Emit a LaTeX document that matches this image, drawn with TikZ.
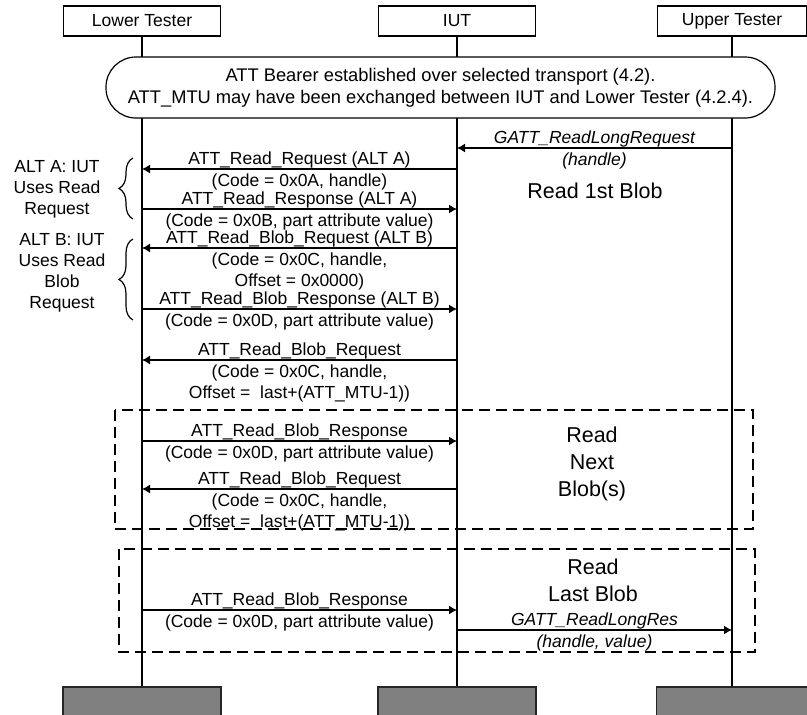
\documentclass[tikz,border=0pt]{standalone}
\usepackage{fontspec}
\setmainfont{Liberation Sans}
\usetikzlibrary{arrows.meta,decorations.pathreplacing}
\begin{document}
\begin{tikzpicture}[x=1pt,y=-1pt,
  every node/.style={font=\fontsize{17.5pt}{21pt}\selectfont, inner sep=0pt},
  actor/.style={draw, line width=1.2pt, minimum width=157pt, minimum height=30pt},
  endbox/.style={draw=black!85, fill=gray, line width=1.2pt, minimum width=158pt, minimum height=30pt},
  life/.style={line width=2pt},
  msg/.style={line width=1.3pt, -{Latex[length=8pt,width=9pt]}},
  ab/.style={midway, anchor=base, yshift=5pt},
  bl/.style={midway, anchor=base, yshift=-17.5pt},
  bltwo/.style={midway, anchor=base, yshift=-38.5pt},
  itl/.style={font=\fontsize{17.5pt}{21pt}\selectfont\itshape},
  big/.style={font=\fontsize{21.5pt}{27pt}\selectfont, align=center},
  grp/.style={draw, line width=1.4pt, dash pattern=on 11pt off 6pt},
  brc/.style={decorate, decoration={brace, amplitude=14pt}, line width=1.2pt},
  alt/.style={align=center}
]
\useasboundingbox (0,0) rectangle (807,715);

% actors
\node[actor] (LT) at (142,21) {Lower Tester};
\node[actor] (IUT) at (457,21) {IUT};
\node[actor, minimum width=149pt] (UT) at (732,21) {Upper Tester};
\node[endbox] (LTb) at (142,702) {};
\node[endbox] (IUTb) at (457,702) {};
\node[endbox, minimum width=151pt] (UTb) at (732,702) {};

% lifelines
\draw[life] (LT.south) -- (LTb.north);
\draw[life] (IUT.south) -- (IUTb.north);
\draw[life] (UT.south) -- (UTb.north);

% bearer box
\node[draw, fill=white, line width=1.2pt, rounded corners=30pt, minimum width=669pt, minimum height=61pt, align=center, font=\fontsize{18.3pt}{22pt}\selectfont] (bearer) at (440.5,87.5)
  {ATT Bearer established over selected transport (4.2).\\ATT\_MTU may have been exchanged between IUT and Lower Tester (4.2.4).};

% coordinates on lifelines
\foreach \n/\y in {1/148,2/169,3/209,4/248,5/309,6/360,7/441,8/489,9/610,10/630}{
  \coordinate (L\n) at (142,\y);
  \coordinate (I\n) at (457,\y);
  \coordinate (U\n) at (732,\y);
}

% messages
\draw[msg] (U1) -- node[ab, itl] {GATT\_ReadLongRequest}
                  node[bl, itl] {(handle)} (I1);
\draw[msg] (I2) -- node[ab] {ATT\_Read\_Request (ALT A)} node[bl] {(Code = 0x0A, handle)} (L2);
\draw[msg] (L3) -- node[ab] {ATT\_Read\_Response (ALT A)} node[bl] {(Code = 0x0B, part attribute value)} (I3);
\draw[msg] (I4) -- node[ab] {ATT\_Read\_Blob\_Request (ALT B)} node[bl] {(Code = 0x0C, handle,}
                  node[bltwo] {Offset = 0x0000)} (L4);
\draw[msg] (L5) -- node[ab] {ATT\_Read\_Blob\_Response (ALT B)} node[bl] {(Code = 0x0D, part attribute value)} (I5);
\draw[msg] (I6) -- node[ab] {ATT\_Read\_Blob\_Request} node[bl] {(Code = 0x0C, handle,}
                  node[bltwo] {Offset = \ last+(ATT\_MTU-1))} (L6);
\draw[msg] (L7) -- node[ab] {ATT\_Read\_Blob\_Response} node[bl] {(Code = 0x0D, part attribute value)} (I7);
\draw[msg] (I8) -- node[ab] {ATT\_Read\_Blob\_Request} node[bl] {(Code = 0x0C, handle,}
                  node[bltwo] {Offset = \ last+(ATT\_MTU-1))} (L8);
\draw[msg] (L9) -- node[ab] {ATT\_Read\_Blob\_Response} node[bl] {(Code = 0x0D, part attribute value)} (I9);
\draw[msg] (I10) -- node[ab, itl] {GATT\_ReadLongRes}
                  node[bl, itl] {(handle, value)} (U10);

% right-side annotations
\node[big] (first) at (595,191) {Read 1st Blob};
\node[big] (next) at (592,464) {Read\\Next\\Blob(s)};
\node[big] (last) at (593,580.5) {Read\\Last Blob};

% dashed group boxes
\draw[grp] (115,410) rectangle (753,529);
\draw[grp] (119,549) rectangle (755,652);

% alternatives
\node[alt] (altA) at (57,189) {ALT A: IUT\\Uses Read\\Request};
\node[alt] (altB) at (62,272.5) {ALT B: IUT\\Uses Read\\Blob\\Request};
\coordinate (bAs) at (133,219);
\coordinate (bAe) at (133,158);
\coordinate (bBs) at (133,320);
\coordinate (bBe) at (133,239);
\draw[brc] (bAs) -- (bAe);
\draw[brc] (bBs) -- (bBe);
\end{tikzpicture}
\end{document}
